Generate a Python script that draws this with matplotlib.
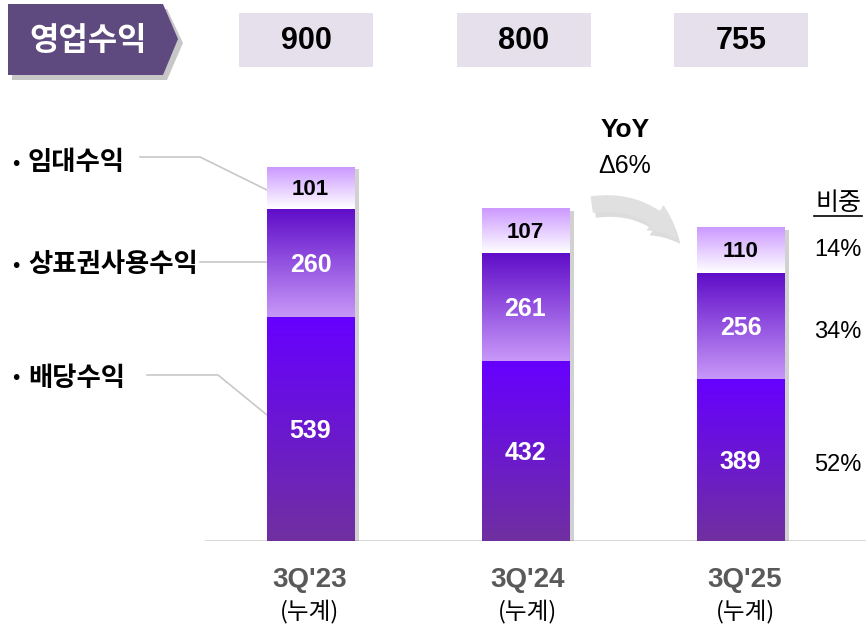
import numpy as np
import matplotlib
matplotlib.use("Agg")
import matplotlib.pyplot as plt
from matplotlib.colors import LinearSegmentedColormap
from matplotlib.patches import Polygon, Rectangle, FancyArrowPatch

plt.rcParams['font.family'] = ['Liberation Sans Narrow', 'Liberation Sans', 'Noto Sans CJK KR', 'DejaVu Sans']

# data
periods = ["3Q'23", "3Q'24", "3Q'25"]
sub_label = "(누계)"
dividend = [539, 432, 389]      # 배당수익
brand = [260, 261, 256]         # 상표권사용수익
rent = [101, 107, 110]          # 임대수익
totals = [900, 800, 755]        # 영업수익
segment_names = ["배당수익", "상표권사용수익", "임대수익"]
share_labels = ["14%", "34%", "52%"]   # 3Q'25 비중 (임대, 상표권, 배당)
yoy_text = "Δ6%"

KR = ['Noto Sans CJK KR', 'DejaVu Sans']
NUM = ['Liberation Sans Narrow', 'Liberation Sans', 'DejaVu Sans']

W, H = 866, 629
fig = plt.figure(figsize=(W / 100, H / 100), dpi=100)

# overlay in pixel coordinates for decorations
ov = fig.add_axes([0, 0, 1, 1])
ov.set_xlim(0, W)
ov.set_ylim(H, 0)
ov.axis('off')

# banner "영업수익"
shadow = Polygon([(12, 9), (167, 9), (183, 43), (167, 80), (12, 80)], closed=True,
                 facecolor='#000000', alpha=0.22, edgecolor='none')
ov.add_patch(shadow)
banner = Polygon([(8, 4), (163, 4), (178, 39), (163, 75), (8, 75)], closed=True,
                 facecolor='#5E4A7E', edgecolor='none')
ov.add_patch(banner)
ov.text(88, 41, "영업수익", family=KR, fontsize=23, fontweight='bold', color='white',
        ha='center', va='center')

# total boxes
box_cx = [306, 524, 741]
for cx, tot in zip(box_cx, totals):
    ov.add_patch(Rectangle((cx - 67, 13), 134, 54, facecolor='#E6E0EC', edgecolor='none'))
    ov.text(cx, 41, f"{tot}", family=NUM, fontsize=22, fontweight='bold', color='black',
            ha='center', va='center')

# leader lines and segment names
lc = '#C8C8C8'
ov.plot([140, 200, 267], [157, 157, 190], color=lc, lw=1.2)
ov.plot([200, 267], [262, 262], color=lc, lw=1.2)
ov.plot([147, 218, 267], [375, 375, 415], color=lc, lw=1.2)
for y, name in zip([163, 265, 378], [segment_names[2], segment_names[1], segment_names[0]]):
    ov.text(12, y, "•", family=KR, fontsize=14, fontweight='bold', color='black',
            ha='left', va='center')
    ov.text(28, y, name, family=KR, fontsize=19, fontweight='bold', color='black',
            ha='left', va='center')

# YoY
ov.text(625, 130, "YoY", family=NUM, fontsize=19, fontweight='bold', color='black',
        ha='center', va='center')
ov.text(625, 166, yoy_text, family=NUM, fontsize=18, color='black', ha='center', va='center')
arr_sh = FancyArrowPatch((592, 210), (682, 246), connectionstyle="arc3,rad=-0.3",
                         arrowstyle="simple,head_width=22,head_length=22,tail_width=12",
                         color='#BBBBBB', alpha=0.5, lw=0)
ov.add_patch(arr_sh)
arr = FancyArrowPatch((589, 205), (679, 241), connectionstyle="arc3,rad=-0.3",
                      arrowstyle="simple,head_width=22,head_length=22,tail_width=12",
                      color='#E0E0E0', lw=0)
ov.add_patch(arr)

# share labels
ov.text(838, 203, "비중", family=KR, fontsize=18, color='black', ha='center', va='center')
ov.plot([814, 862], [216, 216], color='black', lw=1.2)
for y, s in zip([250, 332, 465], share_labels):
    ov.text(838, y, s, family=NUM, fontsize=17, color='black', ha='center', va='center')

# bar axes
ax = fig.add_axes([205 / W, 88 / H, 661 / W, 374 / H])
ax.set_xlim(-0.4907, 2.584)
ax.set_ylim(0, 900)
ax.axis('off')
ax.axhline(0, color='#D0D0D0', lw=1.8, zorder=1)

grads = [
    LinearSegmentedColormap.from_list('div', ['#7030A0', '#6600FF']),
    LinearSegmentedColormap.from_list('brand', ['#C898F8', '#5E0CC8']),
    LinearSegmentedColormap.from_list('rent', ['#FFFFFF', '#CC99FF']),
]
text_colors = ['white', 'white', 'black']
bw = 0.405
grad = np.linspace(0, 1, 256).reshape(-1, 1)
x = np.arange(len(periods))

for i in x:
    segs = [dividend[i], brand[i], rent[i]]
    # drop shadow
    ax.add_patch(Rectangle((i - bw / 2 + 0.022, -6), bw, sum(segs), facecolor='#000000',
                           alpha=0.18, edgecolor='none', zorder=2))
    bottom = 0
    for k, v in enumerate(segs):
        ax.imshow(grad, cmap=grads[k], origin='lower', aspect='auto',
                  extent=(i - bw / 2, i + bw / 2, bottom, bottom + v), zorder=3)
        ax.text(i, bottom + v / 2 - 4, f"{v}", family=NUM, fontsize=18 if k < 2 else 16,
                fontweight='bold', color=text_colors[k], ha='center', va='center', zorder=4)
        bottom += v

ax.set_xlim(-0.4907, 2.584)
ax.set_ylim(0, 900)

for i, p in enumerate(periods):
    ov.text(box_cx[i] + 4, 580, p, family=NUM, fontsize=20, fontweight='bold', color='#595959',
            ha='center', va='center')
    ov.text(box_cx[i] + 4, 611, sub_label, family=KR, fontsize=17, color='black',
            ha='center', va='center')

fig.savefig('out.png', dpi=100)
